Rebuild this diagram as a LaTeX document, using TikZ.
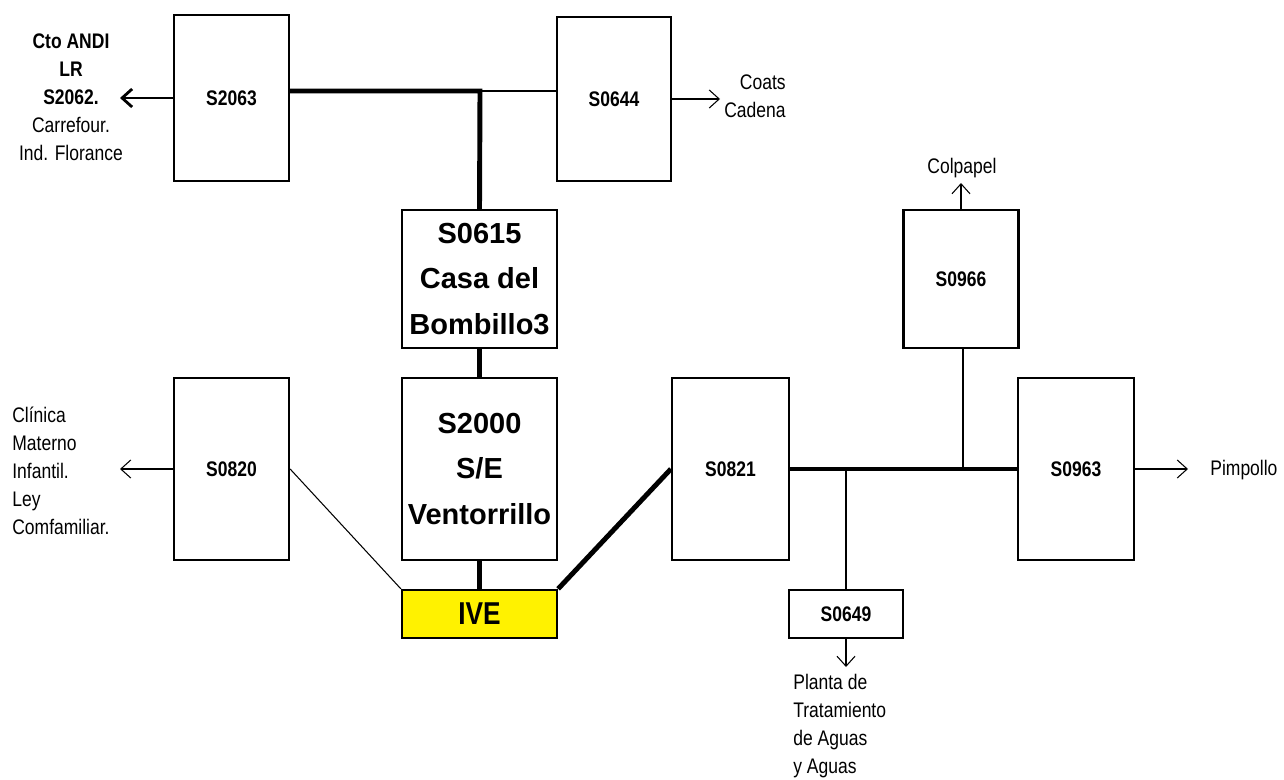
\documentclass[tikz,border=0pt]{standalone}
\usepackage{fontspec}
\setmainfont{Liberation Sans}
\newfontfamily\narrow{Liberation Sans}[FakeStretch=0.83]
\usetikzlibrary{arrows.meta}

\begin{document}
\begin{tikzpicture}[x=0.02cm,y=-0.02cm,
  subst/.style={shape=rectangle,draw=black,align=center,line width=1.3pt,inner sep=0pt,font=\narrow\bfseries\fontsize{12}{14}\selectfont},
  bigsubst/.style={subst,font=\bfseries\fontsize{16.5}{26}\selectfont},
  lbl/.style={inner sep=0pt,font=\narrow\fontsize{12}{16}\selectfont},
  feed/.style={-,draw=black,line width=2.8pt},
  tap/.style={-,draw=black,line width=0.6pt},
  outarrow/.style={-{Straight Barb[length=2mm,width=3.6mm]},draw=black,line width=0.6pt}]
\useasboundingbox (0,0) rectangle (1284,780);

\node[subst,minimum width=2.3cm,minimum height=3.32cm] (s2063) at (231.5,98) {S2063};
\node[subst,minimum width=2.28cm,minimum height=3.28cm] (s0644) at (614,99) {S0644};
\node[bigsubst,minimum width=3.1cm,minimum height=2.76cm] (s0615) at (479.5,279) {S0615\\Casa del\\Bombillo3};
\node[bigsubst,minimum width=3.1cm,minimum height=3.64cm] (s2000) at (479.5,469) {S2000\\S/E\\Ventorrillo};
\node[subst,minimum width=2.3cm,minimum height=3.64cm] (s0820) at (231.5,469) {S0820};
\node[subst,fill=yellow,minimum width=3.1cm,minimum height=0.96cm,font=\narrow\bfseries\fontsize{18}{20}\selectfont] (ive) at (479.5,614) {IVE};
\node[subst,minimum width=2.34cm,minimum height=3.64cm] (s0821) at (730.5,469) {S0821};
\node[subst,minimum width=2.32cm,minimum height=3.64cm] (s0963) at (1076,469) {S0963};
\node[subst,minimum width=2.3cm,minimum height=2.76cm] (s0966) at (961,279) {S0966};
\node[subst,minimum width=2.28cm,minimum height=0.96cm] (s0649) at (846,614) {S0649};

\node[lbl,align=center] (andi) at (71,97) {\textbf{Cto ANDI}\\\textbf{LR}\\\textbf{S2062.}\\Carrefour.\\Ind. Florance};
\node[lbl,align=right,anchor=east] (coats) at (786,96) {Coats\\Cadena};
\node[lbl,align=left,anchor=west] (clinica) at (12,471) {Clínica\\Materno\\Infantil.\\Ley\\Comfamiliar.};
\node[lbl] (colpapel) at (962,168) {Colpapel};
\node[lbl,anchor=west] (pimpollo) at (1210,470) {Pimpollo};
\node[lbl,align=left,anchor=west] (planta) at (793,726) {Planta de\\Tratamiento\\de Aguas\\y Aguas};

\coordinate (j1) at (480,91);
\coordinate (j2) at (846,469);
\coordinate (j3) at (963,469);
\coordinate (e1) at (120,98);
\coordinate (e2) at (720,99);
\coordinate (e3) at (120,469);
\coordinate (e4) at (961,183);
\coordinate (e5) at (1188,469);
\coordinate (e6) at (846,667);

\draw[feed] (s2063.east |- j1) -- (j1) -- (s0615.north);
\draw[tap] (j1) -- (s0644.west |- j1);
\draw[feed] (s0615.south) -- (s2000.north);
\draw[feed] (s2000.south) -- (ive.north);
\draw[tap] (s0820.east) -- (ive.north west);
\draw[feed] (ive.north east) -- (s0821.west);
\draw[feed] (s0821.east) -- (s0963.west);
\draw[tap] (j2) -- (s0649.north);
\draw[tap] (j3) -- (s0966.south -| j3);

\draw[outarrow,line width=1.6pt] (s2063.west) -- (e1);
\draw[outarrow] (s0644.east) -- (e2);
\draw[outarrow] (s0820.west) -- (e3);
\draw[outarrow] (s0966.north) -- (e4);
\draw[outarrow] (s0963.east) -- (e5);
\draw[outarrow] (s0649.south) -- (e6);
\end{tikzpicture}
\end{document}
